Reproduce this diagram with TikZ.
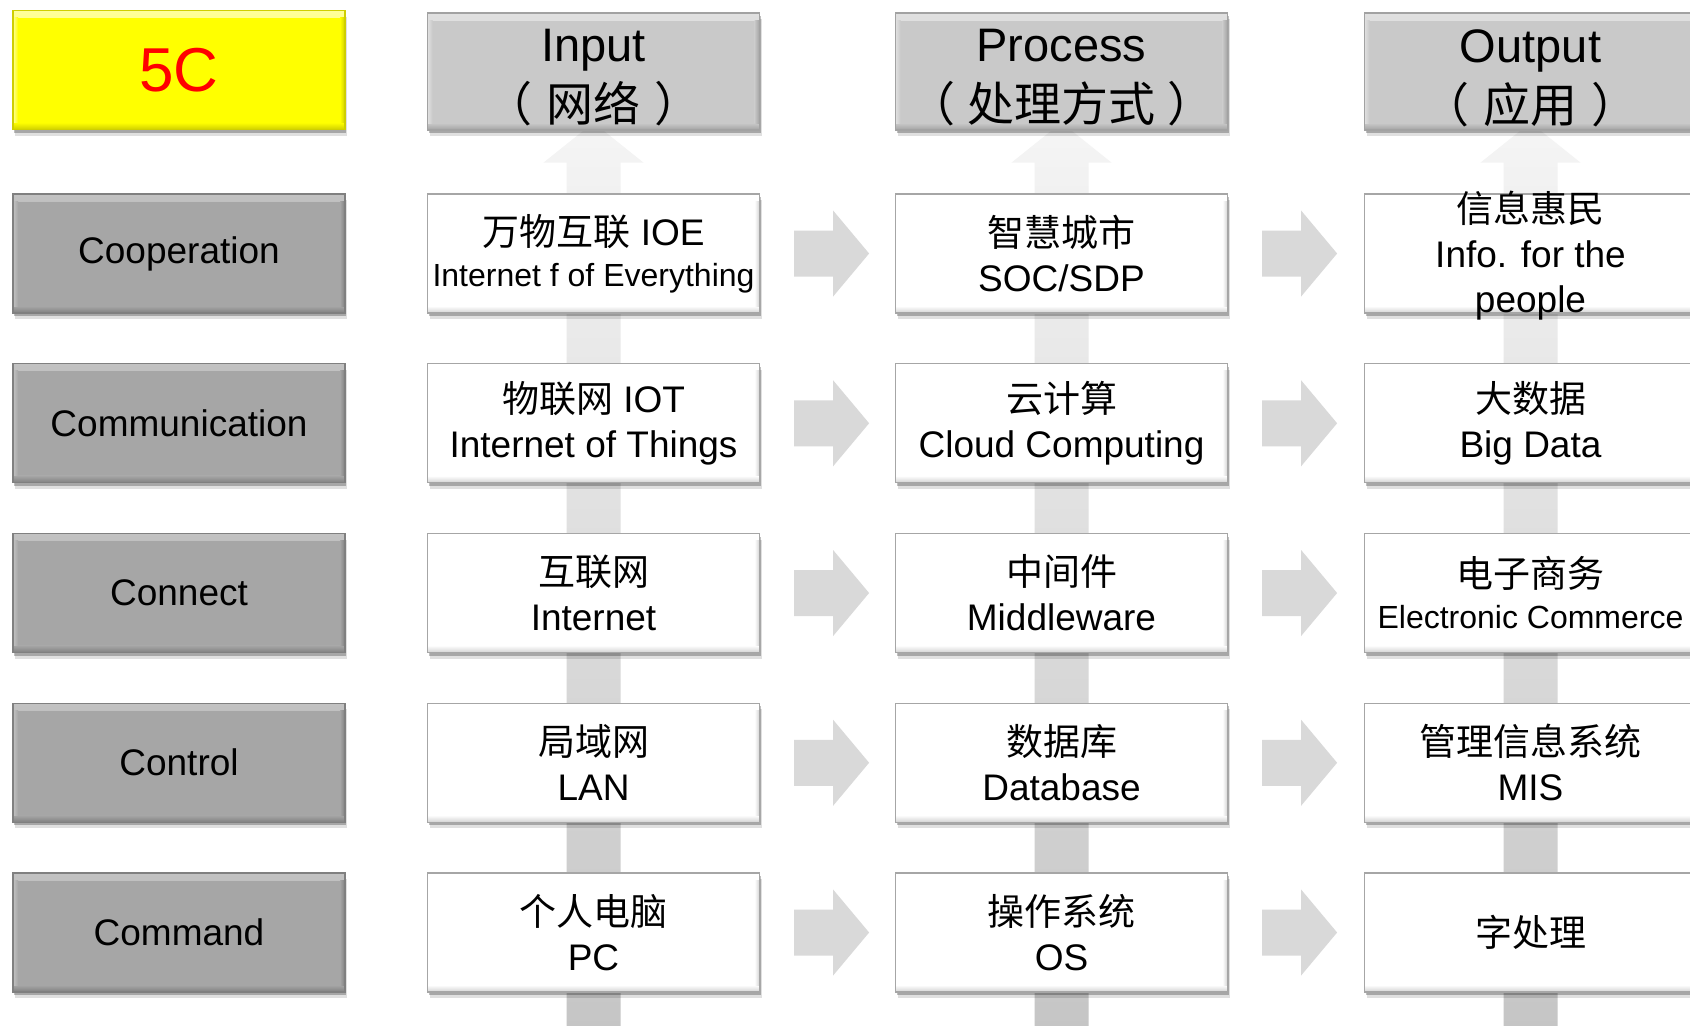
\documentclass[tikz,border=0pt]{standalone}
\usepackage{fontspec}
\setmainfont{Liberation Sans}
\newfontfamily\cjk{Noto Sans CJK SC}
\usetikzlibrary{shadows,backgrounds}
\definecolor{leftface}{HTML}{A6A6A6}
\definecolor{leftlight}{HTML}{C2C2C2}
\definecolor{leftdark}{HTML}{808080}
\definecolor{hdface}{HTML}{C9C9C9}
\definecolor{hdlight}{HTML}{E0E0E0}
\definecolor{hddark}{HTML}{A2A2A2}
\definecolor{whface}{HTML}{FFFFFF}
\definecolor{whlight}{HTML}{FFFFFF}
\definecolor{whdark}{HTML}{D2D2D2}
\definecolor{yface}{HTML}{FFFF00}
\definecolor{ylight}{HTML}{FFFF9A}
\definecolor{ydark}{HTML}{CFCF00}
\definecolor{arrowgray}{HTML}{D9D9D9}
\tikzset{
  bevel/.style n args={3}{fill=#1, draw=#3, line width=0.6pt,
    path picture={
      \shade[top color=#2, bottom color=#1] (path picture bounding box.north west) rectangle ([yshift=-3.5pt]path picture bounding box.north east);
      \shade[top color=#1, bottom color=#3] ([yshift=3.5pt]path picture bounding box.south west) rectangle (path picture bounding box.south east);
      \shade[left color=#2, right color=#1] ([yshift=-3.5pt]path picture bounding box.north west) rectangle ([xshift=2.5pt,yshift=3.5pt]path picture bounding box.south west);
      \shade[left color=#1, right color=#3] ([xshift=-2.5pt,yshift=-3.5pt]path picture bounding box.north east) rectangle ([yshift=3.5pt]path picture bounding box.south east);
    }},
  boxbase/.style={minimum width=166pt, minimum height=59.5pt, inner sep=0pt, align=center,
    drop shadow={shadow xshift=0.6pt, shadow yshift=-1.5pt, opacity=0.25, fill=black},
    drop shadow={shadow xshift=1pt, shadow yshift=-3pt, opacity=0.12, fill=black}},
  txt/.style={font=\fontsize{18.5pt}{22.5pt}\selectfont},
  hdtxt/.style={font=\fontsize{23.5pt}{28.5pt}\selectfont, align=center, inner sep=0pt},
  leftbox/.style={boxbase, bevel={leftface}{leftlight}{leftdark}, txt},
  hdbox/.style={boxbase, minimum height=58.5pt, bevel={hdface}{hdlight}{hddark}},
  whbox/.style={boxbase, bevel={whface}{whlight}{whdark}, draw=black!35, txt},
  fivec/.style={boxbase, bevel={yface}{ylight}{ydark}, font=\fontsize{31pt}{36pt}\selectfont, text=red},
  harrow/.style={fill=arrowgray},
  vshade/.style={top color=black!4, bottom color=black!23},
}
\newcommand{\smalltxt}{\fontsize{16pt}{19pt}\selectfont}
\newcommand{\pars}[2]{{\cjk （\hspace{#1em}#2\hspace{#1em}）}}
\begin{document}
\begin{tikzpicture}[x=0.5pt,y=-0.5pt]
\clip (0,0) rectangle (1690,1025);
% headers
\node[fivec] (c5) at (179,70) {5C};
\node[hdbox] (hIn) at (593.5,71.5) {};
\node[hdtxt] (hInT) at ([yshift=-3.2pt]hIn.center) {Input\\[1.5pt]\pars{0.3}{网络}};
\node[hdbox] (hPr) at (1061.5,71.5) {};
\node[hdtxt] (hPrT) at ([yshift=-3.2pt]hPr.center) {Process\\[1.5pt]\pars{0.25}{处理方式}};
\node[hdbox] (hOut) at (1530.5,71.5) {};
\node[hdtxt] (hOutT) at ([yshift=-3.2pt]hOut.center) {Output\\[1.5pt]\pars{0.3}{应用}};
% vertical arrows (behind everything)
\begin{pgfonlayer}{background}
\fill[white] (0,0) rectangle (1690,1025);
\foreach \h in {hIn,hPr,hOut}{
  \shade[vshade] (\h.south) ++(0,-8) -- ++(50,40) -- ++(-23,0) -- ++(0,880) -- ++(-54,0) -- ++(0,-880) -- ++(-23,0) -- cycle;
}
\end{pgfonlayer}
% left column
\node[leftbox] (l1) at (179,253.5) {Cooperation};
\node[leftbox] (l2) at (179,423.25) {Communication};
\node[leftbox] (l3) at (179,593) {Connect};
\node[leftbox] (l4) at (179,762.75) {Control};
\node[leftbox] (l5) at (179,932.5) {Command};
% input column
\node[whbox] (i1) at (593.5,253.5) {{\cjk 万物互联} IOE\\[-2pt]{\smalltxt Internet f of Everything}};
\node[whbox] (i2) at (593.5,423.25) {{\cjk 物联网} IOT\\Internet of Things};
\node[whbox] (i3) at (593.5,593) {{\cjk 互联网}\\Internet};
\node[whbox] (i4) at (593.5,762.75) {{\cjk 局域网}\\LAN};
\node[whbox] (i5) at (593.5,932.5) {{\cjk 个人电脑}\\PC};
% process column
\node[whbox] (p1) at (1061.5,253.5) {{\cjk 智慧城市}\\SOC/SDP};
\node[whbox] (p2) at (1061.5,423.25) {{\cjk 云计算}\\Cloud Computing};
\node[whbox] (p3) at (1061.5,593) {{\cjk 中间件}\\Middleware};
\node[whbox] (p4) at (1061.5,762.75) {{\cjk 数据库}\\Database};
\node[whbox] (p5) at (1061.5,932.5) {{\cjk 操作系统}\\OS};
% output column
\node[whbox] (o1) at (1530.5,253.5) {};
\node[txt, align=center, inner sep=0pt] (o1t) at ([yshift=-1pt]o1.center) {{\cjk 信息惠民}\\Info. for the\\people};
\node[whbox] (o2) at (1530.5,423.25) {{\cjk 大数据}\\Big Data};
\node[whbox] (o3) at (1530.5,593) {{\cjk 电子商务}\\[-2pt]{\smalltxt Electronic Commerce}};
\node[whbox] (o4) at (1530.5,762.75) {{\cjk 管理信息系统}\\MIS};
\node[whbox] (o5) at (1530.5,932.5) {{\cjk 字处理}};
% horizontal arrows
\foreach \r in {1,...,5}{
  \fill[harrow] (i\r.east) ++(34,-23) -- ++(39,0) -- ++(0,-20) -- ++(36,43) -- ++(-36,43) -- ++(0,-20) -- ++(-39,0) -- cycle;
  \fill[harrow] (p\r.east) ++(34,-23) -- ++(39,0) -- ++(0,-20) -- ++(36,43) -- ++(-36,43) -- ++(0,-20) -- ++(-39,0) -- cycle;
}
\end{tikzpicture}
\end{document}
